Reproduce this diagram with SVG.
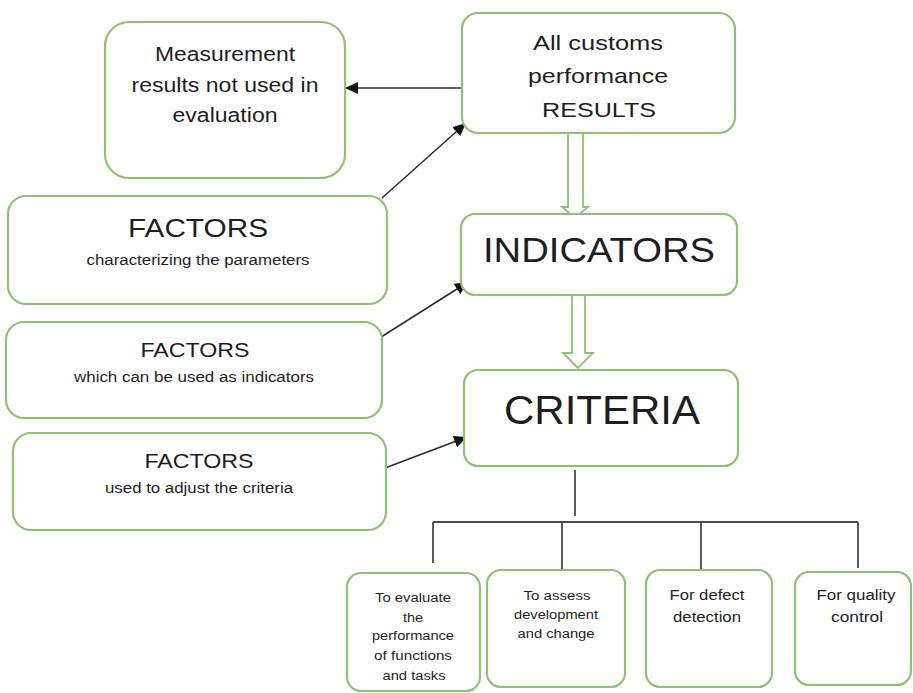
<svg xmlns="http://www.w3.org/2000/svg" width="913" height="693" viewBox="0 0 913 693">
<defs>
<style>
.box{fill:#ffffff;stroke:#8dc273;stroke-width:2.2}
.t{font-family:"Liberation Sans",Arial,sans-serif;fill:#1e1e1e;text-anchor:middle}
.ln{stroke:#2a2a2a;stroke-width:1.5;fill:none}
.tree{stroke:#4a4a4a;stroke-width:1.8;fill:none}
.blk{fill:#ffffff;stroke:#8dc273;stroke-width:1.8;stroke-linejoin:miter}
</style>
<marker id="ah" markerUnits="userSpaceOnUse" markerWidth="14" markerHeight="12" refX="13" refY="6" orient="auto">
<path d="M0,0 L13,6 L0,12 Z" fill="#111"/>
</marker>
</defs>
<rect width="913" height="693" fill="#ffffff"/>

<g id="connectors">
<line class="ln" x1="462" y1="88" x2="345" y2="88" marker-end="url(#ah)"/>
<line class="ln" x1="382" y1="198" x2="466" y2="123" marker-end="url(#ah)"/>
<line class="ln" x1="378" y1="339" x2="468" y2="282" marker-end="url(#ah)"/>
<line class="ln" x1="385" y1="468" x2="467" y2="437" marker-end="url(#ah)"/>
<path class="blk" d="M568,133 L568,207 L562,207 L575,218 L588,207 L583,207 L583,133"/>
<path class="blk" d="M572,295 L572,353 L563,353 L578,368 L593,353 L585,353 L585,295"/>
<path class="tree" d="M575,470 L575,516 M433,522 L858,522 M433,522 L433,563 M562,522 L562,570 M701,522 L701,571 M858,522 L858,568"/>
</g>

<g id="measurement">
<rect class="box" x="105" y="22" width="240" height="156" rx="24"/>
<text class="t" font-size="20" x="225" y="61" textLength="140" lengthAdjust="spacingAndGlyphs">Measurement</text>
<text class="t" font-size="20" x="225" y="92" textLength="187" lengthAdjust="spacingAndGlyphs">results not used in</text>
<text class="t" font-size="20" x="225" y="122" textLength="105" lengthAdjust="spacingAndGlyphs">evaluation</text>
</g>

<g id="results">
<rect class="box" x="462" y="13" width="273" height="120" rx="16"/>
<text class="t" font-size="21" x="598" y="50" textLength="130" lengthAdjust="spacingAndGlyphs">All customs</text>
<text class="t" font-size="21" x="598" y="83" textLength="140" lengthAdjust="spacingAndGlyphs">performance</text>
<text class="t" font-size="21" x="599" y="117" textLength="114" lengthAdjust="spacingAndGlyphs">RESULTS</text>
</g>

<g id="factors1">
<rect class="box" x="8" y="196" width="379" height="108" rx="18"/>
<text class="t" font-size="26" x="198" y="237" textLength="140" lengthAdjust="spacingAndGlyphs">FACTORS</text>
<text class="t" font-size="14" x="198" y="265" textLength="223" lengthAdjust="spacingAndGlyphs">characterizing the parameters</text>
</g>

<g id="indicators">
<rect class="box" x="461" y="214" width="276" height="81" rx="14"/>
<text class="t" font-size="35" x="599" y="262" textLength="232" lengthAdjust="spacingAndGlyphs">INDICATORS</text>
</g>

<g id="factors2">
<rect class="box" x="6" y="322" width="376" height="96" rx="18"/>
<text class="t" font-size="21" x="195" y="357" textLength="109" lengthAdjust="spacingAndGlyphs">FACTORS</text>
<text class="t" font-size="14" x="194" y="382" textLength="240" lengthAdjust="spacingAndGlyphs">which can be used as indicators</text>
</g>

<g id="criteria">
<rect class="box" x="464" y="370" width="274" height="96" rx="14"/>
<text class="t" font-size="40" x="602" y="424" textLength="196" lengthAdjust="spacingAndGlyphs">CRITERIA</text>
</g>

<g id="factors3">
<rect class="box" x="13" y="433" width="373" height="97" rx="18"/>
<text class="t" font-size="21" x="199" y="468" textLength="109" lengthAdjust="spacingAndGlyphs">FACTORS</text>
<text class="t" font-size="14" x="199" y="493" textLength="188" lengthAdjust="spacingAndGlyphs">used to adjust the criteria</text>
</g>

<g id="evaluate">
<rect class="box" x="347" y="573" width="133" height="118" rx="14"/>
<text class="t" font-size="12.5" x="413" y="602" textLength="76" lengthAdjust="spacingAndGlyphs">To evaluate</text>
<text class="t" font-size="12.5" x="413" y="622" textLength="20" lengthAdjust="spacingAndGlyphs">the</text>
<text class="t" font-size="12.5" x="413" y="640" textLength="82" lengthAdjust="spacingAndGlyphs">performance</text>
<text class="t" font-size="12.5" x="413" y="660" textLength="78" lengthAdjust="spacingAndGlyphs">of functions</text>
<text class="t" font-size="12.5" x="414" y="680" textLength="63" lengthAdjust="spacingAndGlyphs">and tasks</text>
</g>

<g id="assess">
<rect class="box" x="487" y="570" width="138" height="117" rx="14"/>
<text class="t" font-size="12.5" x="557" y="600" textLength="67" lengthAdjust="spacingAndGlyphs">To assess</text>
<text class="t" font-size="12.5" x="556" y="619" textLength="84" lengthAdjust="spacingAndGlyphs">development</text>
<text class="t" font-size="12.5" x="556" y="638" textLength="77" lengthAdjust="spacingAndGlyphs">and change</text>
</g>

<g id="defect">
<rect class="box" x="646" y="570" width="126" height="117" rx="14"/>
<text class="t" font-size="14" x="707" y="600" textLength="75" lengthAdjust="spacingAndGlyphs">For defect</text>
<text class="t" font-size="14" x="707" y="622" textLength="68" lengthAdjust="spacingAndGlyphs">detection</text>
</g>

<g id="quality">
<rect class="box" x="795" y="572" width="116" height="113" rx="14"/>
<text class="t" font-size="14" x="856" y="600" textLength="79" lengthAdjust="spacingAndGlyphs">For quality</text>
<text class="t" font-size="14" x="857" y="622" textLength="52" lengthAdjust="spacingAndGlyphs">control</text>
</g>
</svg>
